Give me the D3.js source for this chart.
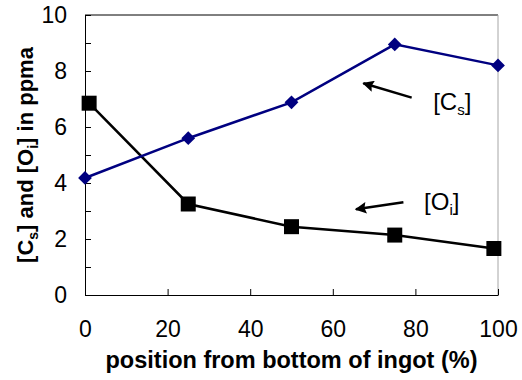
<!DOCTYPE html>
<html>
<head>
<meta charset="utf-8">
<script src="https://cdn.jsdelivr.net/npm/d3@7"></script>
<style>
  body { margin: 0; background: #fff; }
  svg { display: block; font-family: "Liberation Sans", Arial, sans-serif; }
</style>
</head>
<body>
<svg id="chart"></svg>
<script>
// position (%) and concentration (ppma)
const positionCs = [0, 25, 50, 75, 100];
const valuesCs = [4.18, 5.6, 6.88, 8.95, 8.2];
const positionOi = [1, 25, 50, 75, 99];
const valuesOi = [6.85, 3.25, 2.44, 2.14, 1.66];

const xTicks = [0, 20, 40, 60, 80, 100];
const yTicks = [0, 1, 2, 3, 4, 5, 6, 7, 8, 9, 10];

// annotation arrows, in data units: [tailX, tailY, tipX, tipY]
const arrowCs = [79.1, 7.05, 67.4, 7.56];
const arrowOi = [77.1, 3.31, 65.6, 3.06];
const labelCs = { x: 84.3, y: 6.6, main: "C", sub: "s" };
const labelOi = { x: 82.1, y: 3.03, main: "O", sub: "i" };

const config = {
  width: 522,
  height: 380,
  margin: { top: 15, right: 24, bottom: 85, left: 85 },
};

const width = config.width - config.margin.left - config.margin.right;
const height = config.height - config.margin.top - config.margin.bottom;

const svg = d3
  .select("#chart")
  .attr("width", config.width)
  .attr("height", config.height);

const chart = svg
  .append("g")
  .attr("transform", `translate(${config.margin.left},${config.margin.top})`);

const xScale = d3.scaleLinear().domain([0, 100]).range([0, width]);
const yScale = d3.scaleLinear().domain([0, 10]).range([height, 0]);

// frame: top black, right grey
chart
  .append("line")
  .attr("x1", 0)
  .attr("x2", width)
  .attr("y1", 0)
  .attr("y2", 0)
  .attr("stroke", "#000")
  .attr("stroke-width", 1);

chart
  .append("line")
  .attr("x1", width)
  .attr("x2", width)
  .attr("y1", 0)
  .attr("y2", height)
  .attr("stroke", "#a6a6a6")
  .attr("stroke-width", 1);

const xAxis = d3
  .axisBottom(xScale)
  .tickValues(xTicks)
  .tickSizeInner(-6)
  .tickSizeOuter(0)
  .tickPadding(26);

const yAxis = d3
  .axisLeft(yScale)
  .tickValues(yTicks)
  .tickSizeInner(-6)
  .tickSizeOuter(0)
  .tickPadding(18)
  .tickFormat((d) => (d % 2 === 0 ? d : ""));

const xAxisGroup = chart
  .append("g")
  .attr("transform", `translate(0,${height})`)
  .call(xAxis);

const yAxisGroup = chart.append("g").call(yAxis);

[xAxisGroup, yAxisGroup].forEach((g) => {
  g.selectAll("text")
    .style("font-size", "23px")
    .style("font-family", "Liberation Sans, Arial, sans-serif")
    .attr("fill", "#000");
  g.selectAll("line").attr("stroke", "#000");
  g.select(".domain").attr("stroke", "#000");
});

// axis titles
svg
  .append("text")
  .attr("x", config.margin.left + width / 2)
  .attr("y", 368)
  .attr("text-anchor", "middle")
  .style("font-size", "23.5px")
  .style("font-weight", "bold")
  .text("position from bottom of ingot (%)");

const yTitle = svg
  .append("text")
  .attr(
    "transform",
    `translate(33,${config.margin.top + height / 2}) rotate(-90)`,
  )
  .attr("text-anchor", "middle")
  .style("font-size", "22px")
  .style("font-weight", "bold");

yTitle.append("tspan").text("[C");
yTitle
  .append("tspan")
  .attr("dy", 5)
  .style("font-size", "14px")
  .text("s");
yTitle.append("tspan").attr("dy", -5).text("] and [O");
yTitle
  .append("tspan")
  .attr("dy", 5)
  .style("font-size", "14px")
  .text("i");
yTitle.append("tspan").attr("dy", -5).text("] in ppma");

// series
const cs = positionCs.map((p, i) => ({ x: p, y: valuesCs[i] }));
const oi = positionOi.map((p, i) => ({ x: p, y: valuesOi[i] }));

const line = d3
  .line()
  .x((d) => xScale(d.x))
  .y((d) => yScale(d.y));

chart
  .append("path")
  .datum(oi)
  .attr("fill", "none")
  .attr("stroke", "#000")
  .attr("stroke-width", 2.5)
  .attr("d", line);

chart
  .append("path")
  .datum(cs)
  .attr("fill", "none")
  .attr("stroke", "#000080")
  .attr("stroke-width", 2.5)
  .attr("d", line);

chart
  .selectAll(".pt-oi")
  .data(oi)
  .join("path")
  .attr("class", "pt-oi")
  .attr("transform", (d) => `translate(${xScale(d.x)},${yScale(d.y)})`)
  .attr("d", d3.symbol(d3.symbolSquare, 225))
  .attr("fill", "#000");

chart
  .selectAll(".pt-cs")
  .data(cs)
  .join("path")
  .attr("class", "pt-cs")
  .attr(
    "transform",
    (d) => `translate(${xScale(d.x)},${yScale(d.y)}) rotate(45)`,
  )
  .attr("d", d3.symbol(d3.symbolSquare, 95))
  .attr("fill", "#000080");

// annotations
svg
  .append("defs")
  .append("marker")
  .attr("id", "head")
  .attr("viewBox", "0 0 10 10")
  .attr("refX", 9)
  .attr("refY", 5)
  .attr("markerWidth", 5.6)
  .attr("markerHeight", 4.6)
  .attr("markerUnits", "strokeWidth")
  .attr("orient", "auto")
  .append("path")
  .attr("d", "M0,0 L10,5 L0,10 L1.5,5 Z")
  .attr("fill", "#000");

[arrowCs, arrowOi].forEach((a) => {
  chart
    .append("line")
    .attr("x1", xScale(a[0]))
    .attr("y1", yScale(a[1]))
    .attr("x2", xScale(a[2]))
    .attr("y2", yScale(a[3]))
    .attr("stroke", "#000")
    .attr("stroke-width", 2.5)
    .attr("marker-end", "url(#head)");
});

[labelCs, labelOi].forEach((l) => {
  const t = chart
    .append("text")
    .attr("x", xScale(l.x))
    .attr("y", yScale(l.y))
    .style("font-size", "24px");
  t.append("tspan").text("[" + l.main);
  t.append("tspan").attr("dy", 5).style("font-size", "15px").text(l.sub);
  t.append("tspan").attr("dy", -5).text("]");
});
</script>
</body>
</html>
